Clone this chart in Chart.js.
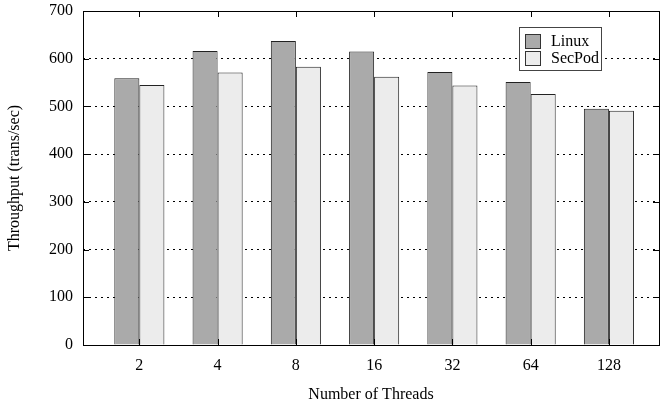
<!DOCTYPE html>
<html>
<head>
<meta charset="utf-8">
<script src="https://cdn.jsdelivr.net/npm/chart.js@4/dist/chart.umd.min.js"></script>
<style>
  html, body { margin: 0; padding: 0; background: #fff; }
  #wrap { width: 664px; height: 404px; }
</style>
</head>
<body>
<div id="wrap"><canvas id="chart" width="664" height="404"></canvas></div>
<script>
// thread counts on the x axis
var threads = ['2', '4', '8', '16', '32', '64', '128'];
// throughput values (trans/sec)
var linux = [559, 616, 637, 615, 572, 551, 495];
var secpod = [545, 571, 583, 562, 544, 526, 491];
var yTicks = [0, 100, 200, 300, 400, 500, 600, 700];

var FONT = 'Liberation Serif';

// box around the plot, inward ticks on every side, and the legend
var frame = {
    id: 'frame',
    afterDraw: function(chart) {
        var ctx = chart.ctx;
        var a = chart.chartArea;
        var xs = chart.scales.x, ys = chart.scales.y;
        ctx.save();
        ctx.strokeStyle = '#000';
        ctx.lineWidth = 1;
        ctx.strokeRect(a.left + 0.5, a.top + 0.5, a.right - a.left, a.bottom - a.top);
        ctx.beginPath();
        threads.forEach(function(t, i) {
            var px = Math.round(xs.getPixelForValue(i)) + 0.5;
            ctx.moveTo(px, a.bottom); ctx.lineTo(px, a.bottom - 6);
            ctx.moveTo(px, a.top); ctx.lineTo(px, a.top + 6);
        });
        yTicks.forEach(function(v) {
            var py = Math.round(ys.getPixelForValue(v)) + 0.5;
            ctx.moveTo(a.left, py); ctx.lineTo(a.left + 6, py);
            ctx.moveTo(a.right, py); ctx.lineTo(a.right - 6, py);
        });
        ctx.stroke();

        // legend
        var lx = 519, ly = 27, lw = 82, lh = 43;
        ctx.fillStyle = '#fff';
        ctx.fillRect(lx, ly, lw, lh);
        ctx.strokeStyle = '#444';
        ctx.strokeRect(lx + 0.5, ly + 0.5, lw, lh);
        var items = [['Linux', '#aaaaaa', 34], ['SecPod', '#ececec', 51]];
        ctx.font = '16px ' + FONT;
        ctx.textBaseline = 'middle';
        items.forEach(function(it) {
            ctx.fillStyle = it[1];
            ctx.fillRect(525, it[2], 15, 14);
            ctx.strokeStyle = '#333';
            ctx.strokeRect(525.5, it[2] + 0.5, 15, 14);
            ctx.fillStyle = '#000';
            ctx.fillText(it[0], 551, it[2] + 7.5);
        });
        ctx.restore();
    }
};

new Chart(document.getElementById('chart'), {
    type: 'bar',
    data: {
        datasets: [{
            label: 'Linux',
            data: linux.map(function(v, i) { return {x: i, y: v}; }),
            backgroundColor: '#aaaaaa',
            borderColor: '#222',
            borderWidth: 1
        }, {
            label: 'SecPod',
            data: secpod.map(function(v, i) { return {x: i, y: v}; }),
            backgroundColor: '#ececec',
            borderColor: '#222',
            borderWidth: 1
        }]
    },
    options: {
        responsive: false,
        animation: false,
        categoryPercentage: 0.64,
        barPercentage: 1,
        layout: { padding: { top: 11, right: 5, left: 0, bottom: 0 } },
        plugins: {
            legend: { display: false },
            tooltip: { enabled: false }
        },
        scales: {
            x: {
                type: 'linear',
                offset: false,
                min: -0.72,
                max: 6.64,
                grid: { display: false, offset: false },
                border: { display: false },
                afterBuildTicks: function(scale) {
                    scale.ticks = threads.map(function(t, i) { return {value: i}; });
                },
                afterFit: function(scale) {
                    scale.height = 59;
                    scale.paddingLeft = 0;
                    scale.paddingRight = 0;
                },
                ticks: {
                    padding: 3,
                    color: '#000',
                    font: { family: FONT, size: 16 },
                    callback: function(v) { return threads[v]; }
                },
                title: {
                    display: true,
                    text: 'Number of Threads',
                    color: '#000',
                    font: { family: FONT, size: 16 },
                    padding: { top: 0, bottom: 0 }
                }
            },
            y: {
                min: 0,
                max: 700,
                afterBuildTicks: function(scale) {
                    scale.ticks = yTicks.map(function(v) { return {value: v}; });
                },
                afterFit: function(scale) {
                    scale.width = 83;
                    scale.paddingTop = 0;
                    scale.paddingBottom = 0;
                },
                border: { display: false, dash: [2, 4] },
                grid: {
                    drawTicks: false,
                    color: function(c) {
                        return (c.tick.value === 0 || c.tick.value === 700) ? 'rgba(0,0,0,0)' : '#000';
                    },
                    lineWidth: 1
                },
                ticks: {
                    padding: 10,
                    color: '#000',
                    font: { family: FONT, size: 16 }
                },
                title: {
                    display: true,
                    text: 'Throughput (trans/sec)',
                    color: '#000',
                    font: { family: FONT, size: 16 },
                    padding: { top: 5, bottom: 0 }
                }
            }
        }
    },
    plugins: [frame]
});
</script>
</body>
</html>
